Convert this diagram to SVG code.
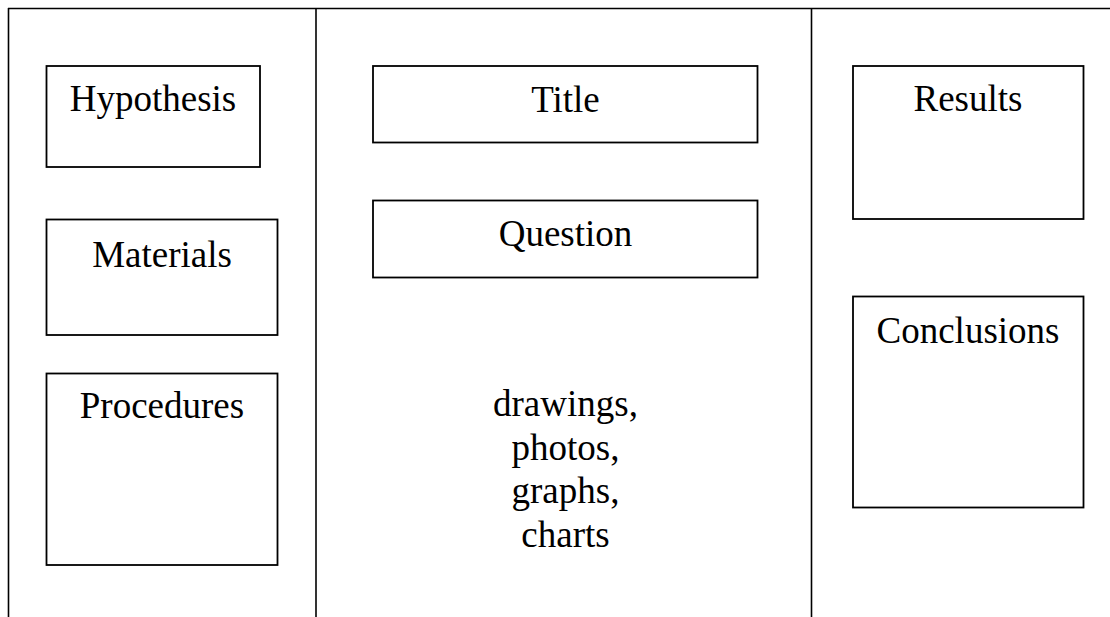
<svg xmlns="http://www.w3.org/2000/svg" width="1110" height="617" viewBox="0 0 1110 617">
<style>
.box{fill:#fff;stroke:#000;stroke-width:1.8}
.ln{stroke:#000;stroke-width:1.6;fill:none}
text{font-family:"Liberation Serif","Times New Roman",serif;font-size:37px;fill:#000;text-anchor:middle}
</style>
<rect width="1110" height="617" fill="#fff"/>
<g id="frame">
<line class="ln" x1="8" y1="8.5" x2="1110" y2="8.5"/>
<line class="ln" x1="8.5" y1="8" x2="8.5" y2="617"/>
<line class="ln" x1="316" y1="8" x2="316" y2="617"/>
<line class="ln" x1="811.5" y1="8" x2="811.5" y2="617"/>
</g>
<g id="connectors"></g>
<g id="hypothesis"><rect class="box" x="46.5" y="66" width="213.5" height="101"/><text x="153" y="111">Hypothesis</text></g>
<g id="materials"><rect class="box" x="46.5" y="219.5" width="231" height="115.5"/><text x="162" y="266.5">Materials</text></g>
<g id="procedures"><rect class="box" x="46.5" y="373.5" width="231" height="191.5"/><text x="162" y="417.5">Procedures</text></g>
<g id="title"><rect class="box" x="373" y="66" width="384.5" height="76.5"/><text x="565.5" y="112">Title</text></g>
<g id="question"><rect class="box" x="373" y="200.5" width="384.5" height="77"/><text x="565.5" y="245.5">Question</text></g>
<g id="media"><text x="565.5" y="416">drawings,</text><text x="565.5" y="459.5">photos,</text><text x="565.5" y="503">graphs,</text><text x="565.5" y="546.5">charts</text></g>
<g id="results"><rect class="box" x="853" y="66" width="230.5" height="153"/><text x="968" y="110.5">Results</text></g>
<g id="conclusions"><rect class="box" x="853" y="296.5" width="230.5" height="211"/><text x="968" y="342.5">Conclusions</text></g>
</svg>
